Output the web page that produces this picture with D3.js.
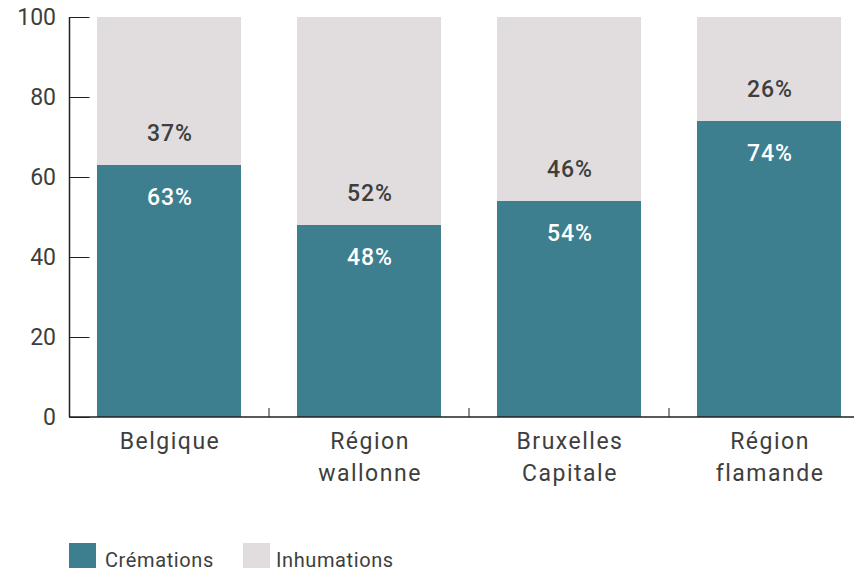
<!DOCTYPE html>
<html>
<head>
<meta charset="utf-8">
<script src="https://cdn.jsdelivr.net/npm/d3@7"></script>
<style>
  body { margin: 0; background: #fff; }
  svg text { font-family: "Roboto", "Noto Sans", sans-serif; fill: #3e3e3e; }
</style>
</head>
<body>
<div id="chart"></div>
<script>
// data
var categories = ['Belgique', 'Région\nwallonne', 'Bruxelles\nCapitale', 'Région\nflamande'];
var cremations = [63, 48, 54, 74];
var inhumations = [37, 52, 46, 26];
var y_ticks = [0, 20, 40, 60, 80, 100];
var series_names = ['Crémations', 'Inhumations'];

var chart_width = 854;
var chart_height = 568;
var teal = '#3d7f8f';
var grey = '#e1dcdd';

var svg = d3.select('#chart')
  .append('svg')
  .attr('width', chart_width)
  .attr('height', chart_height);

// scales
var x_scale = d3.scaleBand()
  .domain(categories)
  .range([69, 869])
  .paddingInner(0.28)
  .paddingOuter(0.14);

var y_scale = d3.scaleLinear()
  .domain([0, 100])
  .range([417, 17]);

var rows = categories.map(function(c, i) {
  return { cat: c, crem: cremations[i], inh: inhumations[i] };
});

// inhumations (top part)
svg.selectAll('rect.inh')
  .data(rows)
  .enter()
  .append('rect')
  .attr('class', 'inh')
  .attr('x', function(d) { return x_scale(d.cat); })
  .attr('y', function(d) { return y_scale(d.crem + d.inh); })
  .attr('width', x_scale.bandwidth())
  .attr('height', function(d) { return y_scale(d.crem) - y_scale(d.crem + d.inh); })
  .attr('fill', grey);

// cremations (bottom part)
svg.selectAll('rect.crem')
  .data(rows)
  .enter()
  .append('rect')
  .attr('class', 'crem')
  .attr('x', function(d) { return x_scale(d.cat); })
  .attr('y', function(d) { return y_scale(d.crem); })
  .attr('width', x_scale.bandwidth())
  .attr('height', function(d) { return y_scale(0) - y_scale(d.crem); })
  .attr('fill', teal);

// labels
svg.selectAll('text.inh-label')
  .data(rows)
  .enter()
  .append('text')
  .attr('class', 'inh-label')
  .attr('x', function(d) { return x_scale(d.cat) + x_scale.bandwidth() / 2 + 1; })
  .attr('y', function(d) { return y_scale(d.crem) - 32; })
  .attr('dy', '0.35em')
  .attr('text-anchor', 'middle')
  .attr('font-size', '23px')
  .attr('font-weight', 500)
  .attr('letter-spacing', '1px')
  .text(function(d) { return d.inh + '%'; });

svg.selectAll('text.crem-label')
  .data(rows)
  .enter()
  .append('text')
  .attr('class', 'crem-label')
  .attr('x', function(d) { return x_scale(d.cat) + x_scale.bandwidth() / 2 + 1; })
  .attr('y', function(d) { return y_scale(d.crem) + 32; })
  .attr('dy', '0.35em')
  .attr('text-anchor', 'middle')
  .attr('font-size', '23px')
  .attr('font-weight', 500)
  .attr('letter-spacing', '1px')
  .style('fill', '#fff')
  .text(function(d) { return d.crem + '%'; });

// y axis
var y_axis = d3.axisRight(y_scale)
  .tickValues(y_ticks)
  .tickSize(20)
  .tickFormat('');
var gy = svg.append('g')
  .attr('transform', 'translate(69.5,0)')
  .call(y_axis);
gy.select('.domain').attr('d', 'M0,' + y_scale(100) + 'V' + y_scale(0));
gy.selectAll('line').attr('stroke', '#222');
gy.select('.domain').attr('stroke', '#222').attr('stroke-width', 1.5);

svg.selectAll('text.ytick')
  .data(y_ticks)
  .enter()
  .append('text')
  .attr('class', 'ytick')
  .attr('x', 56)
  .attr('y', function(d) { return y_scale(d); })
  .attr('dy', '0.35em')
  .attr('text-anchor', 'end')
  .attr('font-size', '23px')
  .text(function(d) { return d; });

// x axis
var boundaries = categories.slice(1).map(function(c) {
  return x_scale(c) - x_scale.step() * x_scale.paddingInner() / 2;
});
svg.append('line')
  .attr('x1', 69).attr('x2', chart_width)
  .attr('y1', y_scale(0)).attr('y2', y_scale(0))
  .attr('stroke', '#222').attr('stroke-width', 1.5);
svg.selectAll('line.xtick')
  .data(boundaries)
  .enter()
  .append('line')
  .attr('class', 'xtick')
  .attr('x1', function(d) { return d; })
  .attr('x2', function(d) { return d; })
  .attr('y1', y_scale(0))
  .attr('y2', y_scale(0) - 9)
  .attr('stroke', '#222');

var xl = svg.selectAll('text.xlabel')
  .data(categories)
  .enter()
  .append('text')
  .attr('class', 'xlabel')
  .attr('text-anchor', 'middle')
  .attr('font-size', '23px')
  .attr('letter-spacing', '1.5px')
  .attr('x', function(d) { return x_scale(d) + x_scale.bandwidth() / 2 + 1; })
  .attr('y', 441);
xl.selectAll('tspan')
  .data(function(d) { return d.split('\n'); })
  .enter()
  .append('tspan')
  .attr('x', function() { return d3.select(this.parentNode).attr('x'); })
  .attr('dy', function(d, i) { return i === 0 ? '0.35em' : 32; })
  .text(function(d) { return d; });

// legend (cut off at the bottom edge, as in the original)
var legend_x = [69, 243];
var legend = svg.selectAll('g.legend')
  .data(series_names)
  .enter()
  .append('g')
  .attr('class', 'legend')
  .attr('transform', function(d, i) { return 'translate(' + legend_x[i] + ',543)'; });
legend.append('rect')
  .attr('width', 27)
  .attr('height', 27)
  .attr('fill', function(d, i) { return i === 0 ? teal : grey; });
legend.append('text')
  .attr('x', function(d, i) { return i === 0 ? 36 : 33; })
  .attr('y', 24)
  .attr('font-size', '20px')
  .attr('letter-spacing', '0.6px')
  .text(function(d) { return d; });
</script>
</body>
</html>
